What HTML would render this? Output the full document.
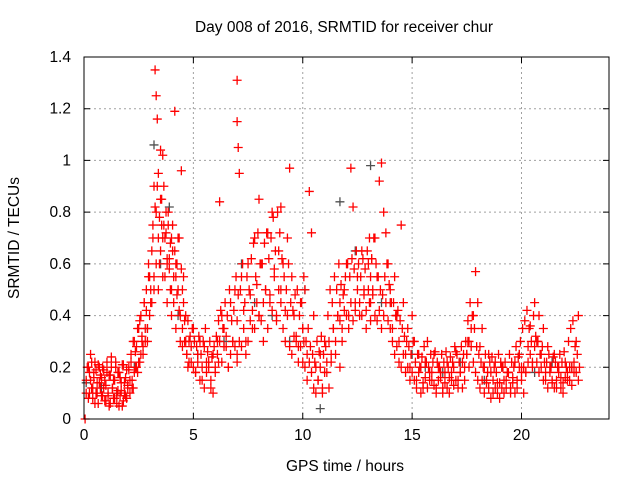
<!DOCTYPE html>
<html><head><meta charset="utf-8"><style>
body{margin:0;background:#fff;}
svg{display:block;font-family:"Liberation Sans",sans-serif;}
</style></head><body>
<svg id="chart" width="640" height="480">
<text x="344" y="32" text-anchor="middle" font-size="15.5" fill="#000">Day 008 of 2016, SRMTID for receiver chur</text>
<text x="345" y="471" text-anchor="middle" font-size="15.5" fill="#000">GPS time / hours</text>
<text transform="translate(19,238) rotate(-90)" text-anchor="middle" font-size="15.5" fill="#000">SRMTID / TECUs</text>
<g id="grid"></g>
<g id="ticks"></g>
<g id="marks"></g>
<rect x="84" y="57" width="525" height="362" fill="none" stroke="#000" stroke-width="1"/>
</svg>
<script>
const xTicks=[0,5,10,15,20];
const yTicks=[0,0.2,0.4,0.6,0.8,1,1.2,1.4];
const yTickLabels=["0","0.2","0.4","0.6","0.8","1","1.2","1.4"];
const redT=[0.05,0.1,0.2,0.25,0.3,0.35,0.4,0.45,0.5,0.55,0.6,0.65,0.7,0.75,0.8,0.85,0.9,0.95,1.0,1.05,1.1,1.15,1.2,1.25,1.3,1.35,1.4,1.45,1.5,1.55,1.6,1.65,1.7,1.75,1.8,1.85,1.9,1.95,2.0,2.05,2.1,2.15,2.2,2.25,2.3,2.35,2.4,2.45,2.5,2.55,2.6,2.65,2.7,2.75,2.8,2.85,2.9,2.95,3.0,3.05,3.1,3.15,3.2,3.2,3.25,3.3,3.3,3.35,3.4,3.4,3.45,3.5,3.5,3.55,3.6,3.6,3.65,3.7,3.75,3.8,3.8,3.85,3.9,3.95,4.0,4.0,4.05,4.1,4.15,4.2,4.2,4.25,4.3,4.35,4.4,4.45,4.5,4.5,4.55,4.6,4.65,4.7,4.75,4.8,4.9,5.0,5.1,5.2,5.3,5.4,5.5,5.6,5.7,5.8,5.9,6.0,6.1,6.15,6.2,6.3,6.4,6.5,6.6,6.7,6.8,6.9,7.0,7.0,7.0,7.0,7.05,7.1,7.2,7.3,7.4,7.5,7.6,7.7,7.8,7.9,8.0,8.0,8.1,8.2,8.3,8.4,8.5,8.6,8.7,8.8,8.9,9.0,9.0,9.1,9.2,9.3,9.4,9.5,9.6,9.7,9.8,9.9,10.0,10.0,10.05,10.1,10.2,10.3,10.4,10.5,10.6,10.7,10.8,10.9,11.0,11.1,11.2,11.3,11.4,11.5,11.6,11.7,11.7,11.8,11.9,12.0,12.1,12.2,12.3,12.4,12.5,12.6,12.7,12.8,12.9,13.0,13.05,13.1,13.1,13.15,13.2,13.3,13.4,13.5,13.6,13.7,13.8,13.9,14.0,14.0,14.1,14.2,14.3,14.4,14.5,14.6,14.7,14.8,14.9,15.0,15.1,15.2,15.3,15.4,15.5,15.6,15.7,15.8,15.9,16.0,16.1,16.2,16.3,16.4,16.5,16.6,16.7,16.8,16.9,17.0,17.1,17.2,17.3,17.4,17.5,17.55,17.6,17.7,17.8,17.9,18.0,18.1,18.2,18.3,18.4,18.5,18.6,18.7,18.8,18.9,19.0,19.1,19.2,19.3,19.4,19.5,19.6,19.7,19.8,19.9,20.0,20.0,20.1,20.2,20.3,20.4,20.5,20.6,20.7,20.8,20.9,21.0,21.1,21.2,21.3,21.4,21.5,21.6,21.7,21.8,21.9,22.0,22.1,22.2,22.3,22.4,22.5,22.6];
const redV=[0.0,0.15,0.2,0.1,0.25,0.12,0.08,0.18,0.22,0.1,0.14,0.06,0.2,0.12,0.16,0.09,0.19,0.07,0.13,0.22,0.1,0.05,0.17,0.24,0.12,0.08,0.15,0.2,0.06,0.11,0.18,0.09,0.14,0.05,0.21,0.1,0.16,0.08,0.13,0.19,0.1,0.25,0.15,0.12,0.3,0.2,0.28,0.18,0.35,0.22,0.4,0.3,0.25,0.45,0.35,0.5,0.3,0.6,0.55,0.45,0.65,0.75,0.9,0.5,1.35,1.25,0.8,1.16,0.95,0.7,0.6,1.04,0.85,0.75,1.02,0.55,0.9,0.7,0.8,0.62,0.45,0.75,0.58,0.5,0.7,0.4,0.65,0.55,1.19,0.6,0.35,0.48,0.7,0.42,0.3,0.96,0.5,0.28,0.45,0.38,0.3,0.25,0.2,0.3,0.22,0.35,0.18,0.25,0.3,0.15,0.28,0.22,0.2,0.12,0.25,0.18,0.3,0.22,0.84,0.4,0.35,0.28,0.2,0.45,0.3,0.5,0.25,0.38,1.31,1.15,1.05,0.95,0.55,0.42,0.3,0.6,0.48,0.35,0.7,0.52,0.4,0.85,0.6,0.3,0.5,0.72,0.45,0.8,0.58,0.38,0.65,0.5,0.82,0.6,0.42,0.7,0.97,0.55,0.4,0.32,0.28,0.45,0.35,0.22,0.3,0.5,0.25,0.88,0.72,0.4,0.2,0.15,0.25,0.1,0.3,0.18,0.12,0.22,0.35,0.25,0.4,0.2,0.45,0.3,0.5,0.6,0.35,0.97,0.82,0.45,0.55,0.4,0.65,0.5,0.35,0.6,0.45,0.55,0.38,0.62,0.48,0.7,0.55,0.92,0.99,0.8,0.72,0.6,0.45,0.5,0.35,0.55,0.4,0.3,0.75,0.45,0.25,0.35,0.2,0.4,0.3,0.15,0.25,0.2,0.12,0.22,0.3,0.18,0.15,0.25,0.1,0.2,0.16,0.12,0.18,0.22,0.1,0.15,0.2,0.26,0.12,0.18,0.22,0.15,0.25,0.3,0.2,0.35,0.4,0.57,0.45,0.28,0.35,0.2,0.15,0.25,0.18,0.1,0.22,0.14,0.08,0.2,0.15,0.12,0.18,0.1,0.16,0.22,0.12,0.25,0.15,0.2,0.1,0.18,0.28,0.36,0.22,0.45,0.3,0.4,0.25,0.35,0.18,0.28,0.2,0.15,0.25,0.12,0.2,0.16,0.1,0.22,0.15,0.2,0.13,0.18,0.3,0.4,0.25,0.35,0.2,0.15,0.18];
const bandT=[0.1,0.2,0.3,0.4,0.5,0.6,0.7,0.8,0.9,1.0,1.1,1.2,1.3,1.4,1.5,1.6,1.7,1.8,1.9,2.0,2.1,2.2,2.3,2.4,2.5,2.6,2.7,2.8,2.9,3.0,3.1,3.2,3.3,3.4,3.5,3.6,3.7,3.8,3.9,4.0,4.1,4.2,4.3,4.4,4.5,4.6,4.7,4.8,4.9,5.0,5.1,5.2,5.3,5.4,5.5,5.6,5.7,5.8,5.9,6.0,6.1,6.2,6.3,6.4,6.5,6.6,6.7,6.8,6.9,7.0,7.1,7.2,7.3,7.4,7.5,7.6,7.7,7.8,7.9,8.0,8.1,8.2,8.3,8.4,8.5,8.6,8.7,8.8,8.9,9.0,9.1,9.2,9.3,9.4,9.5,9.6,9.7,9.8,9.9,10.0,10.1,10.2,10.3,10.4,10.5,10.6,10.7,10.8,10.9,11.0,11.1,11.2,11.3,11.4,11.5,11.6,11.7,11.8,11.9,12.0,12.1,12.2,12.3,12.4,12.5,12.6,12.7,12.8,12.9,13.0,13.1,13.2,13.3,13.4,13.5,13.6,13.7,13.8,13.9,14.0,14.1,14.2,14.3,14.4,14.5,14.6,14.7,14.8,14.9,15.0,15.1,15.2,15.3,15.4,15.5,15.6,15.7,15.8,15.9,16.0,16.1,16.2,16.3,16.4,16.5,16.6,16.7,16.8,16.9,17.0,17.1,17.2,17.3,17.4,17.5,17.6,17.7,17.8,17.9,18.0,18.1,18.2,18.3,18.4,18.5,18.6,18.7,18.8,18.9,19.0,19.1,19.2,19.3,19.4,19.5,19.6,19.7,19.8,19.9,20.0,20.1,20.2,20.3,20.4,20.5,20.6,20.7,20.8,20.9,21.0,21.1,21.2,21.3,21.4,21.5,21.6,21.7,21.8,21.9,22.0,22.1,22.2,22.3,22.4,22.5,22.6];
const bandA=[0.1,0.08,0.15,0.12,0.06,0.1,0.14,0.09,0.12,0.07,
0.09,0.06,0.12,0.08,0.1,0.05,0.11,0.07,0.09,0.12,
0.15,0.12,0.18,0.2,0.22,0.25,0.28,0.3,0.35,0.4,
0.45,0.55,0.6,0.5,0.65,0.7,0.55,0.6,0.62,0.5,
0.45,0.55,0.5,0.4,0.35,0.3,0.25,0.22,0.28,0.2,
0.18,0.22,0.15,0.2,0.12,0.18,0.22,0.15,0.1,0.2,
0.25,0.3,0.22,0.28,0.32,0.2,0.25,0.3,0.28,0.22,
0.3,0.28,0.35,0.25,0.3,0.38,0.42,0.35,0.45,0.4,
0.38,0.45,0.5,0.35,0.48,0.42,0.55,0.4,0.5,0.45,
0.35,0.3,0.4,0.28,0.25,0.32,0.3,0.22,0.28,0.35,
0.2,0.15,0.22,0.18,0.12,0.1,0.15,0.2,0.12,0.18,
0.22,0.3,0.25,0.35,0.3,0.4,0.38,0.35,0.42,0.4,
0.4,0.45,0.38,0.42,0.5,0.45,0.4,0.48,0.42,0.5,
0.45,0.5,0.4,0.38,0.42,0.35,0.4,0.45,0.38,0.35,
0.3,0.25,0.28,0.22,0.2,0.25,0.18,0.2,0.15,0.18,
0.15,0.12,0.18,0.1,0.14,0.16,0.12,0.15,0.18,0.13,
0.12,0.15,0.18,0.1,0.14,0.12,0.16,0.18,0.13,0.15,
0.15,0.18,0.12,0.2,0.25,0.3,0.28,0.22,0.18,0.15,
0.12,0.15,0.1,0.14,0.12,0.08,0.15,0.12,0.1,0.14,
0.12,0.1,0.15,0.18,0.12,0.14,0.1,0.15,0.2,0.18,
0.2,0.18,0.22,0.25,0.2,0.28,0.22,0.18,0.2,0.15,
0.15,0.12,0.18,0.14,0.12,0.15,0.18,0.12,0.14,0.16,
0.18,0.15,0.2,0.22,0.18,0.15];
const bandB=[0.2,0.18,0.22,0.16,0.19,0.21,0.17,0.2,0.15,0.18,
0.17,0.2,0.15,0.22,0.18,0.16,0.21,0.14,0.19,0.2,
0.22,0.3,0.26,0.35,0.38,0.32,0.45,0.42,0.55,0.5,
0.7,0.82,0.9,0.78,0.85,0.75,0.72,0.8,0.68,0.75,
0.65,0.6,0.7,0.58,0.55,0.4,0.38,0.32,0.35,0.3,
0.28,0.32,0.25,0.3,0.35,0.26,0.3,0.24,0.28,0.32,
0.38,0.42,0.35,0.45,0.4,0.5,0.38,0.42,0.55,0.48,
0.5,0.6,0.45,0.55,0.5,0.62,0.68,0.55,0.72,0.6,
0.6,0.68,0.72,0.62,0.7,0.78,0.65,0.8,0.72,0.62,
0.55,0.5,0.6,0.45,0.42,0.48,0.5,0.4,0.45,0.55,
0.3,0.35,0.28,0.25,0.22,0.3,0.26,0.32,0.25,0.28,
0.4,0.5,0.45,0.55,0.5,0.6,0.52,0.48,0.55,0.6,
0.55,0.62,0.58,0.65,0.6,0.55,0.62,0.58,0.65,0.7,
0.62,0.7,0.6,0.55,0.5,0.48,0.55,0.6,0.52,0.45,
0.45,0.4,0.42,0.38,0.35,0.32,0.3,0.28,0.25,0.3,
0.22,0.25,0.2,0.24,0.28,0.22,0.2,0.25,0.22,0.26,
0.22,0.2,0.25,0.22,0.26,0.2,0.24,0.22,0.28,0.25,
0.22,0.28,0.25,0.3,0.38,0.45,0.4,0.35,0.28,0.25,
0.22,0.2,0.25,0.18,0.22,0.24,0.2,0.18,0.25,0.22,
0.2,0.22,0.18,0.25,0.22,0.2,0.28,0.24,0.3,0.35,
0.38,0.42,0.35,0.3,0.4,0.32,0.3,0.25,0.28,0.22,
0.22,0.25,0.2,0.24,0.22,0.2,0.25,0.22,0.26,0.2,
0.3,0.35,0.38,0.28,0.25,0.2];
const grayT=[0.1,0.8,1.5,2.3,2.9,3.2,3.5,3.9,4.3,5.2,6.4,7.2,7.8,8.6,9.4,10.1,10.8,11.7,12.4,13.1,13.6,14.3,15.0,15.6,16.4,17.2,18.3,19.1,19.9,20.6,21.4,22.3];
const grayV=[0.14,0.12,0.1,0.2,0.35,1.06,0.6,0.82,0.4,0.25,0.3,0.6,0.45,0.4,0.3,0.5,0.04,0.84,0.65,0.98,0.45,0.4,0.25,0.2,0.18,0.22,0.15,0.2,0.25,0.18,0.22,0.2];
const X0=84,X1=609,Y0=419,Y1=57;
function xs(t){return X0+t/24*(X1-X0);}
function ys(v){return Y0-v/1.4*(Y0-Y1);}
const NS="http://www.w3.org/2000/svg";
const grid=document.getElementById('grid'),ticks=document.getElementById('ticks'),marks=document.getElementById('marks');
function mk(tag,attrs,parent){const e=document.createElementNS(NS,tag);for(const k in attrs)e.setAttribute(k,attrs[k]);parent.appendChild(e);return e;}
xTicks.forEach(t=>{const x=xs(t);
 if(t>0){const g=mk('line',{x1:x,x2:x,y1:Y0,y2:Y1,stroke:'#a0a0a0','stroke-dasharray':'2,3'},grid);
 
 }
 const tk=mk('path',{d:`M${x},${Y0}v-6M${x},${Y1}v6`,stroke:'#000'},ticks);
 
 
 const l=mk('text',{x:x,y:Y0+21,'text-anchor':'middle','font-size':'15.5'},ticks);l.textContent=t;
 
 
});
yTicks.forEach((v,i)=>{const y=ys(v);
 if(v>0&&v<1.4){const g=mk('line',{x1:X0,x2:X1,y1:y,y2:y,stroke:'#a0a0a0','stroke-dasharray':'2,3'},grid);
 
 }
 const tk=mk('path',{d:`M${X0},${y}h6M${X1},${y}h-6`,stroke:'#000'},ticks);
 
 
 const l=mk('text',{x:X0-13,y:y+5,'text-anchor':'end','font-size':'15.5'},ticks);l.textContent=yTickLabels[i];
 
 
});
function plus(t,v,col,name){const x=xs(t),y=ys(v);
 const p=mk('path',{d:`M${x-4.5},${y}h9M${x},${y-4.5}v9`,stroke:col,'stroke-width':'1.3'},marks);
 
 }
grayT.forEach((t,i)=>plus(t,grayV[i],'#505050','gray-point'));
bandT.forEach((t,i)=>plus(t,bandA[i],'#ff0000','red-point'));
bandT.forEach((t,i)=>plus(t+0.05,bandB[i],'#ff0000','red-point'));
redT.forEach((t,i)=>plus(t,redV[i],'#ff0000','red-point'));
</script>
</body></html>
